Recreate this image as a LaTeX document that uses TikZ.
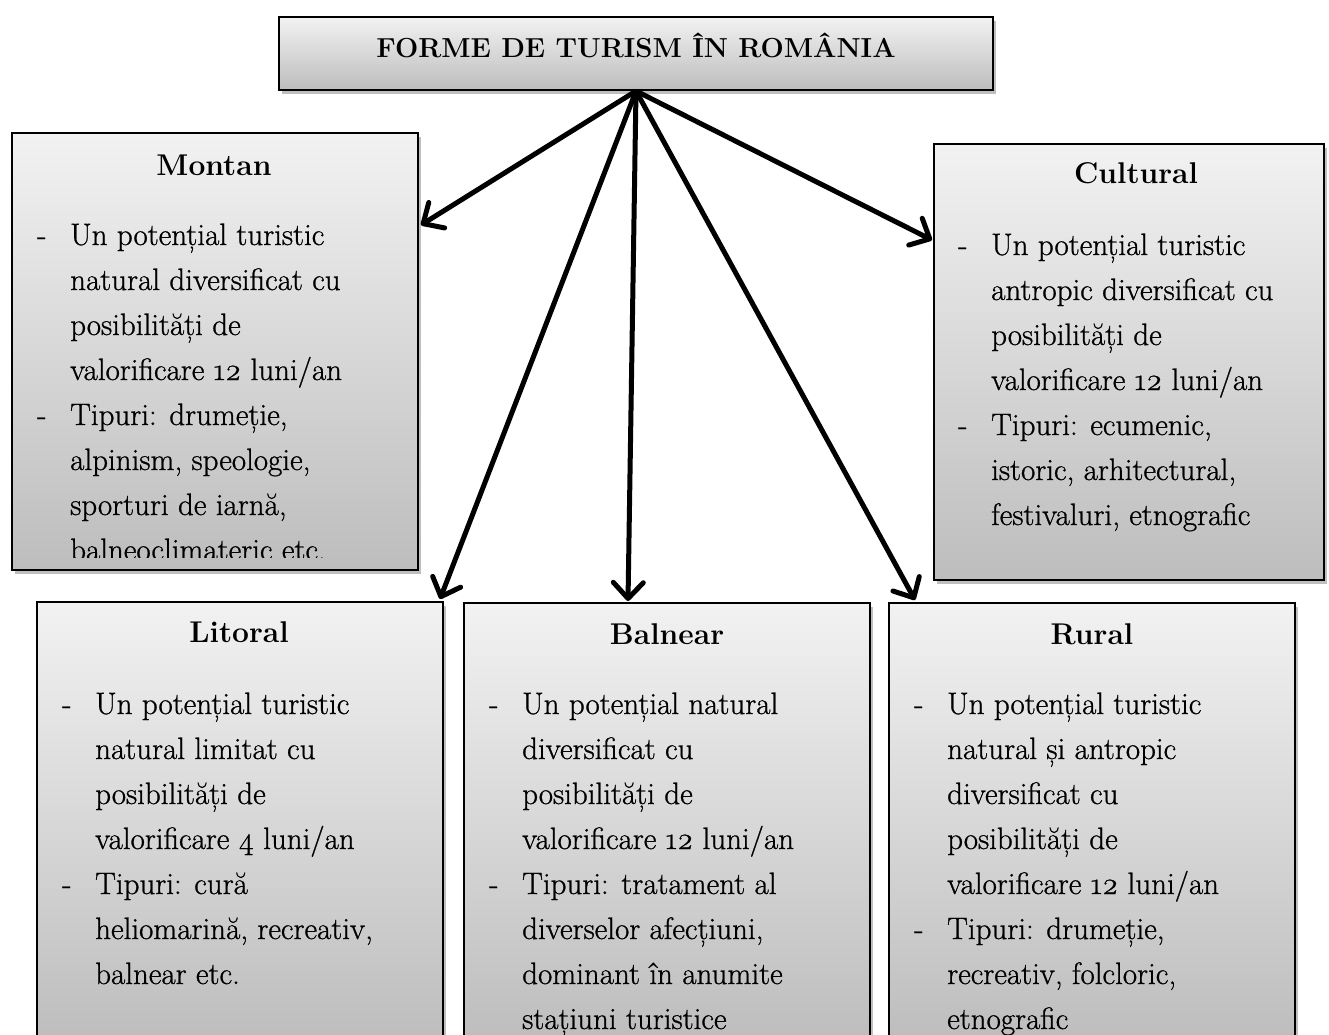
\documentclass[tikz,border=0pt]{standalone}
\usepackage{fontspec}
\setmainfont{Latin Modern Roman}[Numbers=OldStyle]
\newfontfamily\bodyfont{Latin Modern Roman}[Numbers=OldStyle,FakeBold=0.8]
\usetikzlibrary{arrows.meta,shadows,calc}
\definecolor{boxtop}{RGB}{242,242,242}
\definecolor{boxbot}{RGB}{189,189,189}
\newcommand\Dl[1]{\hbox{\hbox to 33pt{-\hfil}#1}}
\newcommand\Cl[1]{\hbox{\kern33pt\relax #1}}
\tikzset{
  box/.style={draw=black, line width=2pt, rectangle, anchor=north west, inner sep=0pt,
    top color=boxtop, bottom color=boxbot,
    drop shadow={shadow xshift=3pt, shadow yshift=-4pt, opacity=0.25, fill=black}},
  txt/.style={inner sep=0pt, anchor=base west, font=\bodyfont\fontsize{31}{45}\selectfont},
  hdr/.style={inner sep=0pt, anchor=base, font=\fontsize{30}{36}\selectfont\bfseries},
  arr/.style={line width=5pt, -{Straight Barb[length=16pt,width=30pt,round]}}
}
\begin{document}
\begin{tikzpicture}[x=1pt,y=-1pt]
\useasboundingbox (0,0) rectangle (1329,1034);
% boxes
\node[box, minimum width=714, minimum height=73] (title) at (278,16) {};
\node[box, minimum width=406, minimum height=437] (montan) at (11,132) {};
\node[box, minimum width=390, minimum height=436] (cultural) at (933,143) {};
\node[box, minimum width=406, minimum height=440] (litoral) at (36,601) {};
\node[box, minimum width=406, minimum height=440] (balnear) at (463,602) {};
\node[box, minimum width=406, minimum height=440] (rural) at (888,602) {};
% headers
\node[hdr, font=\fontsize{27.5}{33}\selectfont\bfseries] (titleT) at (636,57) {FORME DE TURISM ÎN ROMÂNIA};
\node[hdr] (montanH) at (214,175) {Montan};
\node[hdr] (culturalH) at (1136,183) {Cultural};
\node[hdr] (litoralH) at (239,642) {Litoral};
\node[hdr] (balnearH) at (667,644) {Balnear};
\node[hdr] (ruralH) at (1092,644) {Rural};
% body texts
\begin{scope}
\clip (11,132) rectangle (417,557);
\node[txt] (montanT) at (37,245) {\vtop{%
\Dl{Un potențial turistic}
\Cl{natural diversificat cu}
\Cl{posibilități de}
\Cl{valorificare 12 luni/an}
\Dl{Tipuri: drumeție,}
\Cl{alpinism, speologie,}
\Cl{sporturi de iarnă,}
\Cl{balneoclimateric etc.}}};
\end{scope}
\node[txt] (culturalT) at (958,255) {\vtop{%
\Dl{Un potențial turistic}
\Cl{antropic diversificat cu}
\Cl{posibilități de}
\Cl{valorificare 12 luni/an}
\Dl{Tipuri: ecumenic,}
\Cl{istoric, arhitectural,}
\Cl{festivaluri, etnografic}}};
\node[txt] (litoralT) at (62,714) {\vtop{%
\Dl{Un potențial turistic}
\Cl{natural limitat cu}
\Cl{posibilități de}
\Cl{valorificare 4 luni/an}
\Dl{Tipuri: cură}
\Cl{heliomarină, recreativ,}
\Cl{balnear etc.}}};
\node[txt] (balnearT) at (489,714) {\vtop{%
\Dl{Un potențial natural}
\Cl{diversificat cu}
\Cl{posibilități de}
\Cl{valorificare 12 luni/an}
\Dl{Tipuri: tratament al}
\Cl{diverselor afecțiuni,}
\Cl{dominant în anumite}
\Cl{stațiuni turistice}}};
\node[txt] (ruralT) at (914,714) {\vtop{%
\Dl{Un potențial turistic}
\Cl{natural și antropic}
\Cl{diversificat cu}
\Cl{posibilități de}
\Cl{valorificare 12 luni/an}
\Dl{Tipuri: drumeție,}
\Cl{recreativ, folcloric,}
\Cl{etnografic}}};
% arrows
\draw[arr] (title.south) -- ($(montan.north east)+(2,93)$);
\draw[arr] (title.south) -- ($(cultural.north west)+(-1,97)$);
\draw[arr] (title.south) -- ($(litoral.north east)+(-4,-2)$);
\draw[arr] (title.south) -- ($(balnear.north)+(-39,-1)$);
\draw[arr] (title.south) -- ($(rural.north west)+(27,-2)$);
\end{tikzpicture}
\end{document}
